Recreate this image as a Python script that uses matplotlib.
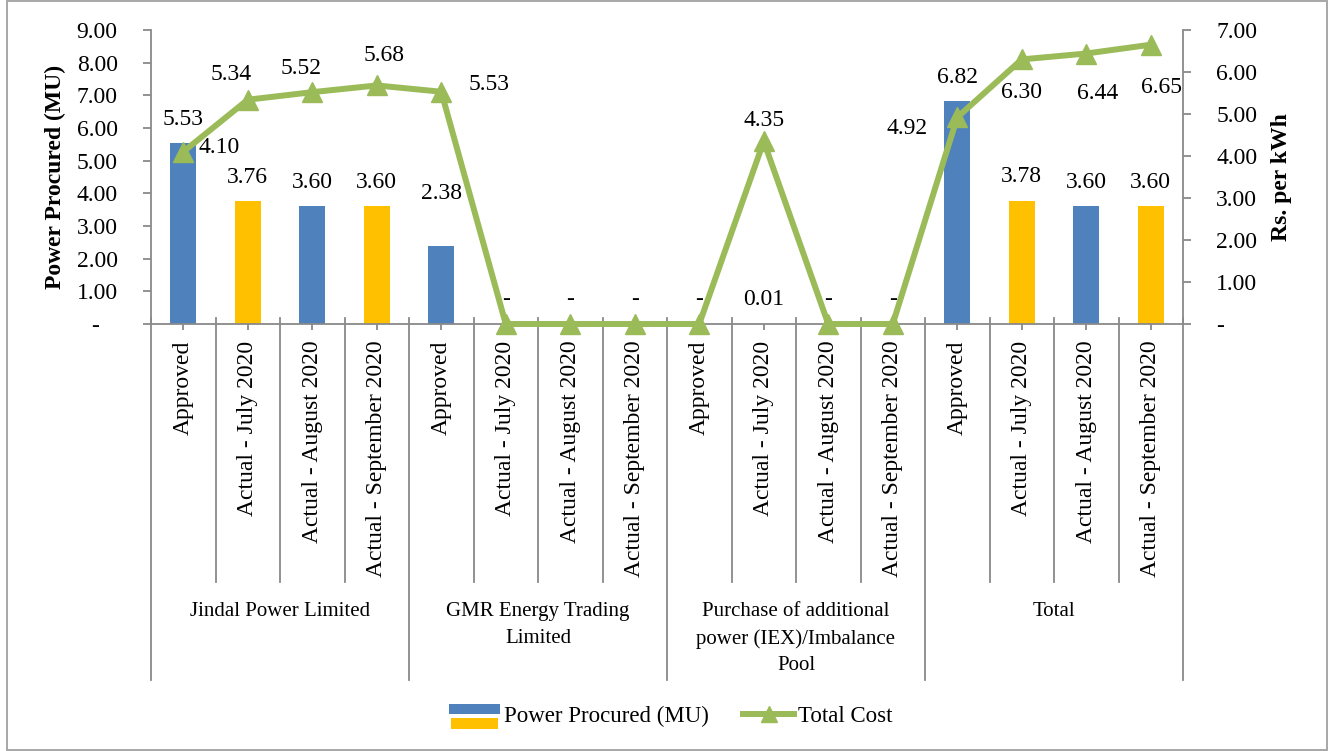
import matplotlib
matplotlib.use("Agg")
import numpy as np
import matplotlib.pyplot as plt
from matplotlib.ticker import FuncFormatter
from matplotlib.patches import Rectangle
from matplotlib.lines import Line2D
from matplotlib.legend_handler import HandlerBase

plt.rcParams['font.family'] = ['Liberation Serif', 'DejaVu Serif']

# data
periods = ['Approved', 'Actual - July 2020', 'Actual - August 2020', 'Actual - September 2020']
groups = ['Jindal Power Limited', 'GMR Energy Trading\nLimited',
          'Purchase of additional\npower (IEX)/Imbalance\nPool', 'Total']
power_mu = [5.53, 3.76, 3.60, 3.60,
            2.38, 0, 0, 0,
            0, 0.01, 0, 0,
            6.82, 3.78, 3.60, 3.60]
total_cost = [4.10, 5.34, 5.52, 5.68,
              5.53, 0, 0, 0,
              0, 4.35, 0, 0,
              4.92, 6.30, 6.44, 6.65]

# style
blue = '#4F81BD'
yellow = '#FFC000'
green = '#9BBB59'
grey = '#898989'
fs = 17
bar_colors = [blue, yellow, blue, yellow] * 4
# label offsets in pixels (dx, dy)
cost_offsets = [(36, 4), (-17, 25), (-11, 24), (7, 30), (48, 7), None, None, None,
                None, (0, 21), None, None, (-50, -11), (0, -33), (11, -40), (11, -43)]
bar_offsets = [24] * 16
bar_offsets[4] = 53

n = len(power_mu)
x = np.arange(n)

fig = plt.figure(figsize=(13.31, 7.51), dpi=100)
ax = fig.add_axes([151 / 1331, 1 - 324 / 751, 1032 / 1331, 294 / 751])
ax2 = ax.twinx()

ax.bar(x, power_mu, width=0.4, color=bar_colors, zorder=2)
ax.set_xlim(-0.5, n - 0.5)
ax.set_ylim(0, 9)
ax.set_yticks(np.arange(0, 10, 1))
ax.yaxis.set_major_formatter(FuncFormatter(lambda v, p: '-   ' if v == 0 else '%.2f' % v))

ax2.plot(x, total_cost, color=green, lw=4.3, marker='^', markersize=15,
         markeredgewidth=1, markeredgecolor=green, clip_on=False, zorder=3)
ax2.set_ylim(0, 7)
ax2.set_yticks(np.arange(0, 8, 1))
ax2.yaxis.set_major_formatter(FuncFormatter(lambda v, p: '-' if v == 0 else '%.2f' % v))

for a in (ax, ax2):
    for s in a.spines.values():
        s.set_color(grey)
        s.set_linewidth(1.3)
ax.spines['top'].set_visible(False)
ax.spines['right'].set_visible(False)
ax2.spines['top'].set_visible(False)
ax2.spines['left'].set_visible(False)
ax2.spines['bottom'].set_visible(False)

ax.tick_params(axis='y', direction='out', length=6, width=1.3, color=grey, labelsize=fs, pad=18)
ax2.tick_params(axis='y', direction='out', length=6, width=1.3, color=grey, labelsize=fs, pad=18)
ax.set_xticks(x)
ax.set_xticklabels(periods * 4, rotation=90, fontsize=fs)
ax.tick_params(axis='x', direction='out', length=4, width=1.3, color=grey, pad=8)

# category separators
tr = ax.get_xaxis_transform()
for i in range(n + 1):
    xs = i - 0.5
    if i % 4 == 0:
        ax.plot([xs, xs], [0.02, -1.211], color=grey, lw=1.3, transform=tr, clip_on=False)
    else:
        ax.plot([xs, xs], [0.02, -0.878], color=grey, lw=1.3, transform=tr, clip_on=False)

for g, name in enumerate(groups):
    ax.text(g * 4 + 1.5, -0.945, name, transform=tr, ha='center', va='top',
            fontsize=15, linespacing=1.55)

# bar labels
for i, v in enumerate(power_mu):
    lab = '-' if v == 0 else '%.2f' % v
    ax.annotate(lab, (i, v), xytext=(0, bar_offsets[i]), textcoords='offset pixels',
                ha='center', va='center', fontsize=fs)

# line labels
for i, v in enumerate(total_cost):
    if cost_offsets[i] is None:
        continue
    ax2.annotate('%.2f' % v, (i, v), xytext=cost_offsets[i], textcoords='offset pixels',
                 ha='center', va='center', fontsize=fs)

fig.text(55 / 1331, 1 - 177 / 751, 'Power Procured (MU)', rotation=90, ha='center',
         va='center', fontsize=fs, fontweight='bold')
fig.text(1282 / 1331, 1 - 177 / 751, 'Rs. per kWh', rotation=90, ha='center',
         va='center', fontsize=fs, fontweight='bold')


class TwoColor(HandlerBase):
    def create_artists(self, legend, orig_handle, xdescent, ydescent, width, height, fontsize, trans):
        r1 = Rectangle((-xdescent, -ydescent + height * 0.5), width, height * 0.6,
                       fc=blue, ec='none', transform=trans)
        r2 = Rectangle((-xdescent + width * 0.04, -ydescent - height * 0.45), width * 0.92,
                       height * 0.7, fc=yellow, ec='none', transform=trans)
        return [r1, r2]


bar_handle = Rectangle((0, 0), 1, 1, fc=blue)
line_handle = Line2D([], [], color=green, lw=4.3, marker='^', markersize=12)
fig.legend([bar_handle, line_handle], ['Power Procured (MU)', 'Total Cost'],
           handler_map={Rectangle: TwoColor()}, loc='center',
           bbox_to_anchor=(671 / 1331, 1 - 716 / 751), ncol=2, frameon=False,
           fontsize=16.5, handlelength=2.2, handletextpad=0.2, columnspacing=1.5)

fig.patches.append(Rectangle((7 / 1331, 1 / 751), 1320 / 1331, 749 / 751, fill=False,
                             ec='#A0A0A0', lw=1.3, transform=fig.transFigure, figure=fig))

fig.savefig('out.png', dpi=100)
